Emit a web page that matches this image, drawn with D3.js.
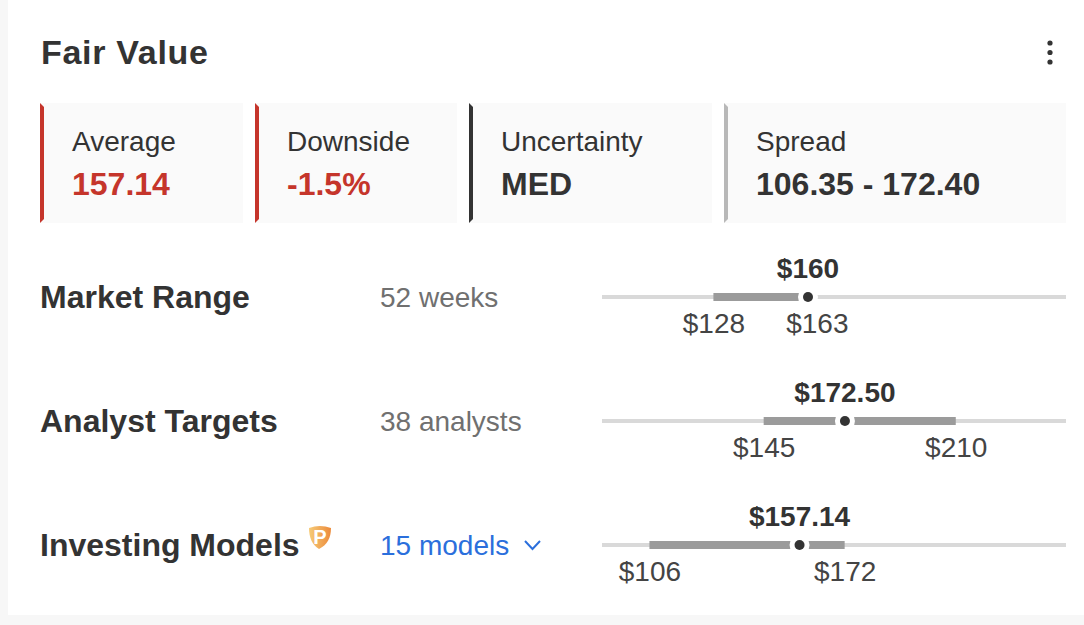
<!DOCTYPE html>
<html>
<head>
<meta charset="utf-8">
<script src="https://cdn.jsdelivr.net/npm/d3@7"></script>
<style>
    html, body { margin: 0; padding: 0; background: #f7f7f7; overflow: hidden; }
    svg { display: block; }
    text { font-family: "Liberation Sans", Arial, sans-serif; fill: #333; }
</style>
</head>
<body>
<div class="fair-value-container"></div>
<script>
// Data
const cardLabels = ['Average', 'Downside', 'Uncertainty', 'Spread'];
const cardValues = ['157.14', '-1.5%', 'MED', '106.35 - 172.40'];
const cardAccents = ['#c5352b', '#c5352b', '#333333', '#b8b8b8'];
const cardValueColors = ['#c5352b', '#c5352b', '#333333', '#333333'];

const rangeNames = ['Market Range', 'Analyst Targets', 'Investing Models'];
const rangeNotes = ['52 weeks', '38 analysts', '15 models'];
const rangeLows = [128, 145, 106.35];
const rangeHighs = [163, 210, 172.4];
const rangeCurrent = [160, 172.5, 157.14];
const currentLabels = ['$160', '$172.50', '$157.14'];

const scaleDomain = [90.3, 247.3];

// Layout
const width = 1084;
const height = 625;
const cardX = [40, 255, 469, 724];
const cardW = [203, 202, 243, 342];
const cardY = 103;
const cardH = 120;
const rowY = [297, 421, 545];

const svg = d3.select('.fair-value-container')
    .append('svg')
    .attr('width', width)
    .attr('height', height);

// White panel
svg.append('rect')
    .attr('x', 8)
    .attr('y', 0)
    .attr('width', width - 8)
    .attr('height', 615)
    .style('fill', '#fff');

// Header
svg.append('text')
    .attr('x', 41)
    .attr('y', 64)
    .text('Fair Value')
    .style('font-size', '34px')
    .style('font-weight', 'bold')
    .style('letter-spacing', '0.7px');

svg.append('g')
    .attr('class', 'menu-dots')
    .selectAll('circle')
    .data([43, 52.5, 62])
    .enter()
    .append('circle')
    .attr('cx', 1050)
    .attr('cy', d => d)
    .attr('r', 2.6)
    .style('fill', '#333');

// Summary cards
const cards = svg.append('g')
    .attr('class', 'cards')
    .selectAll('g')
    .data(cardLabels)
    .enter()
    .append('g')
    .attr('transform', (d, i) => `translate(${cardX[i]}, ${cardY})`);

cards.append('rect')
    .attr('width', (d, i) => cardW[i])
    .attr('height', cardH)
    .style('fill', '#fafafa');

cards.append('path')
    .attr('d', `M0,0L4,4V${cardH - 4}L0,${cardH}Z`)
    .style('fill', (d, i) => cardAccents[i]);

cards.append('text')
    .attr('x', 32)
    .attr('y', 48)
    .text(d => d)
    .style('font-size', '28px');

cards.append('text')
    .attr('x', 32)
    .attr('y', 92)
    .text((d, i) => cardValues[i])
    .style('font-size', '32px')
    .style('font-weight', 'bold')
    .style('fill', (d, i) => cardValueColors[i]);

// Scale shared by the three ranges
const xScale = d3
    .scaleLinear()
    .domain(scaleDomain)
    .range([602, 1066]);

const rows = svg.append('g')
    .attr('class', 'rows')
    .selectAll('g')
    .data(rangeNames)
    .enter()
    .append('g')
    .attr('class', 'row')
    .attr('transform', (d, i) => `translate(0, ${rowY[i]})`);

rows.append('text')
    .attr('x', 40)
    .attr('y', 11)
    .text(d => d)
    .style('font-size', '32px')
    .style('font-weight', 'bold');

rows.append('text')
    .attr('x', 380)
    .attr('y', 10)
    .text((d, i) => rangeNotes[i])
    .style('font-size', '28px')
    .style('fill', (d, i) => (i === 2 ? '#2b6fdc' : '#707070'));

// Track, low-high bar, marker
rows.append('rect')
    .attr('x', xScale.range()[0])
    .attr('y', -2)
    .attr('width', xScale.range()[1] - xScale.range()[0])
    .attr('height', 4)
    .style('fill', '#d9d9d9');

rows.append('rect')
    .attr('x', (d, i) => xScale(rangeLows[i]))
    .attr('y', -4)
    .attr('width', (d, i) => xScale(rangeHighs[i]) - xScale(rangeLows[i]))
    .attr('height', 8)
    .style('fill', '#9b9b9b');

rows.append('circle')
    .attr('cx', (d, i) => xScale(rangeCurrent[i]))
    .attr('r', 10)
    .style('fill', '#fff');

rows.append('circle')
    .attr('cx', (d, i) => xScale(rangeCurrent[i]))
    .attr('r', 5)
    .style('fill', '#333');

rows.append('text')
    .attr('x', (d, i) => xScale(rangeCurrent[i]))
    .attr('y', -19)
    .attr('text-anchor', 'middle')
    .text((d, i) => currentLabels[i])
    .style('font-size', '28px')
    .style('font-weight', 'bold');

// Low and high labels
rows.each(function(d, i) {
    const axis = d3
        .axisBottom(xScale)
        .tickValues([rangeLows[i], rangeHighs[i]])
        .tickFormat(v => `$${Math.round(v)}`)
        .tickSize(0)
        .tickPadding(0);

    const axisDraw = d3.select(this)
        .append('g')
        .attr('class', 'x axis')
        .attr('transform', 'translate(0, 36)')
        .call(axis);

    axisDraw.select('.domain').remove();
    axisDraw.selectAll('text')
        .attr('y', 0)
        .attr('dy', 0)
        .style('font-size', '28px')
        .style('fill', '#444')
        .style('font-family', '"Liberation Sans", Arial, sans-serif');
});

// Pro shield next to Investing Models
const defs = svg.append('defs');
const shieldGradient = defs.append('linearGradient')
    .attr('id', 'shield-gradient')
    .attr('x1', 0)
    .attr('x2', 1)
    .attr('y1', 0)
    .attr('y2', 0);
shieldGradient.append('stop').attr('offset', 0).attr('stop-color', '#f6cb78');
shieldGradient.append('stop').attr('offset', 1).attr('stop-color', '#ec8a3a');

const shield = svg.append('g')
    .attr('class', 'pro-shield')
    .attr('transform', 'translate(309, 525)');

shield.append('path')
    .attr('d', 'M0,3Q11,-1 22,3C22,13 18,20 10,24C3,20 0,12 0,3Z')
    .style('fill', 'url(#shield-gradient)');

shield.append('text')
    .attr('x', 11)
    .attr('y', 19)
    .attr('text-anchor', 'middle')
    .text('P')
    .style('font-size', '20px')
    .style('font-weight', 'bold')
    .style('fill', '#fff');

// Chevron on the models dropdown
svg.append('path')
    .attr('class', 'chevron')
    .attr('d', d3.line()([[525, 541], [532.5, 549], [540, 541]]))
    .style('fill', 'none')
    .style('stroke', '#2b6fdc')
    .style('stroke-width', 2);
</script>
</body>
</html>
